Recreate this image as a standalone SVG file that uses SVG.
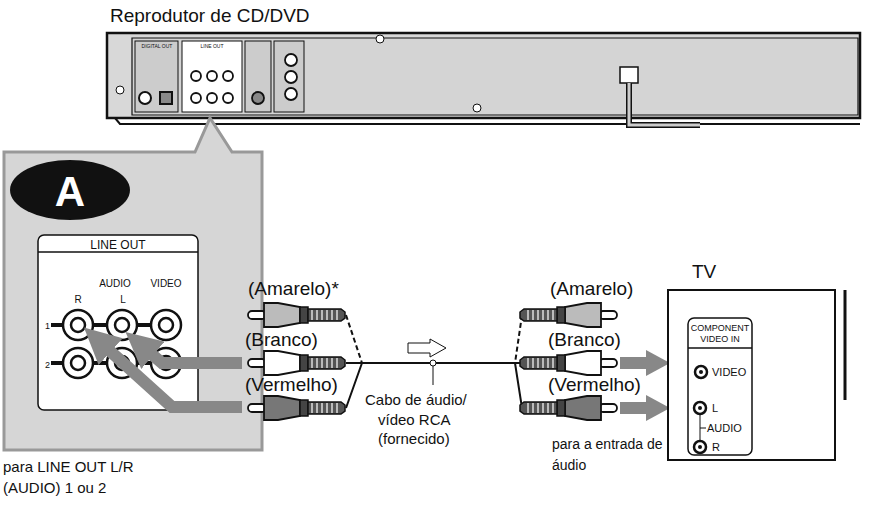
<svg xmlns="http://www.w3.org/2000/svg" width="870" height="515" viewBox="0 0 870 515">
<style>
text{font-family:"Liberation Sans",Arial,sans-serif;fill:#111}
.lbl{font-size:19px}
.sm{font-size:15px}
.tiny{font-size:5px}
.ln{stroke:#111;stroke-width:2;fill:none}
.jack{fill:#fff;stroke:#111;stroke-width:2.5}
.garrow{fill:none;stroke:#888;stroke-width:12}
.plugbody{stroke:#111;stroke-width:1.8}
</style>
<defs>
<g id="plugL">
<rect x="0" y="-4" width="18" height="8" rx="4" fill="#fff" stroke="#111" stroke-width="1.8"/>
<path d="M16,-12 H30 L52,-8 V8 L30,12 H16 Z" class="plugbody"/>
<rect x="52" y="-8" width="8" height="16" fill="#444" stroke="#111" stroke-width="1.5"/>
<path d="M60,-6 H93 L97,-3 V3 L93,6 H60 Z" fill="#555" stroke="#111" stroke-width="1.5"/>
<path d="M64,-5 V5 M69,-5 V5 M74,-5 V5 M79,-5 V5 M84,-5 V5 M89,-5 V5" stroke="#ddd" stroke-width="1.5"/>
</g>
<marker id="ah" viewBox="0 0 10 10" refX="4" refY="5" markerWidth="3" markerHeight="3" orient="auto"><path d="M0,0 L10,5 L0,10 Z" fill="#888"/></marker>
</defs>

<text x="110" y="22" class="lbl" font-size="18">Reprodutor de CD/DVD</text>

<g id="player">
<path d="M107,33 H860 V118 H107 Z" fill="#d8d8d8" stroke="#111" stroke-width="2.5"/>
<path d="M132,38 H858 V115 H132 Z" fill="#d4d4d4" stroke="#111" stroke-width="1.2"/>
<path d="M115,118 L120,124 H860" fill="none" stroke="#111" stroke-width="2"/>
<circle cx="120" cy="90" r="4" fill="#fff" stroke="#111"/>
<circle cx="380" cy="39" r="4" fill="#fff" stroke="#111"/>
<circle cx="477" cy="108" r="4" fill="#fff" stroke="#111"/>
<rect x="135" y="41" width="43" height="71" fill="#ccc" stroke="#111"/>
<rect x="182" y="41" width="60" height="71" fill="#fff" stroke="#111"/>
<rect x="245" y="41" width="26" height="71" fill="#ccc" stroke="#111"/>
<rect x="274" y="41" width="30" height="71" fill="#ccc" stroke="#111"/>
<text x="157" y="48" class="tiny" text-anchor="middle">DIGITAL OUT</text>
<text x="212" y="48" class="tiny" text-anchor="middle">LINE OUT</text>
<circle cx="145" cy="98" r="6" fill="#fff" stroke="#111" stroke-width="2"/>
<rect x="160" y="92" width="12" height="12" fill="#888" stroke="#111" stroke-width="2"/>
<g stroke="#111" stroke-width="1.8" fill="#fff">
<circle cx="196" cy="76" r="5"/><circle cx="212" cy="76" r="5"/><circle cx="228" cy="76" r="5"/>
<circle cx="196" cy="98" r="5"/><circle cx="212" cy="98" r="5"/><circle cx="228" cy="98" r="5"/>
<circle cx="258" cy="98" r="6" fill="#888"/>
<circle cx="291" cy="60" r="6"/><circle cx="291" cy="77" r="6"/><circle cx="291" cy="94" r="6"/>
</g>
<rect x="620" y="67" width="18" height="16" fill="#fff" stroke="#111" stroke-width="1.5"/>
<path d="M629,83 V125 H700" fill="none" stroke="#111" stroke-width="6"/>
<path d="M629,83 V125 H700" fill="none" stroke="#ccc" stroke-width="3"/>
</g>

<g id="callout">
<path d="M4,152 H195 L210,118 L232,152 H262 V450 H4 Z" fill="#d6d6d6" stroke="#999" stroke-width="3"/>
<ellipse cx="70" cy="190" rx="60" ry="30" fill="#111"/>
<text x="70" y="206" font-size="42" font-weight="bold" text-anchor="middle" style="fill:#fff">A</text>
<rect x="38" y="235" width="160" height="175" rx="6" fill="#fff" stroke="#111" stroke-width="1.5"/>
<line x1="38" y1="252" x2="198" y2="252" stroke="#111" stroke-width="1.5"/>
<text x="118" y="249" font-size="12" text-anchor="middle">LINE OUT</text>
<text x="115" y="287" font-size="10" text-anchor="middle">AUDIO</text>
<text x="166" y="287" font-size="10" text-anchor="middle">VIDEO</text>
<text x="78" y="303" font-size="10" text-anchor="middle">R</text>
<text x="123" y="303" font-size="10" text-anchor="middle">L</text>
<text x="45" y="329" font-size="9">1</text>
<text x="45" y="368" font-size="9">2</text>
<path d="M51,325 H180 M51,363 H180" stroke="#111" stroke-width="4"/>
<g class="jack"><circle cx="78" cy="325" r="15"/><circle cx="122" cy="325" r="15"/><circle cx="166" cy="325" r="15"/>
<circle cx="78" cy="363" r="15"/><circle cx="122" cy="363" r="15"/><circle cx="166" cy="363" r="15"/>
<circle cx="78" cy="325" r="7"/><circle cx="122" cy="325" r="7"/><circle cx="166" cy="325" r="7"/>
<circle cx="78" cy="363" r="7"/><circle cx="122" cy="363" r="7"/><circle cx="166" cy="363" r="7"/></g>
</g>

<g id="connectors">
<path d="M242,363 H162 L142,346" class="garrow" marker-end="url(#ah)"/>
<path d="M242,407 H172 L100,342" class="garrow" marker-end="url(#ah)"/>
<path d="M346,315 L362,363" class="ln" stroke-dasharray="5,3"/>
<path d="M346,363 H515 M346,408 L362,363" class="ln"/>
<path d="M522,315 L515,363" class="ln" stroke-dasharray="5,3"/>
<path d="M515,363 H522 M515,363 L522,408" class="ln"/>
<circle cx="433" cy="363" r="3" fill="#fff" stroke="#111"/>
<line x1="433" y1="366" x2="433" y2="385" stroke="#111"/>
<path d="M408,343 H430 V339 L446,348 L430,357 V353 H408 Z" fill="#fff" stroke="#111"/>
<path d="M620,363 H648" stroke="#888" stroke-width="12"/><path d="M646,350 L670,363 L646,376 Z" fill="#888"/>
<path d="M620,408 H648" stroke="#888" stroke-width="12"/><path d="M646,395 L670,408 L646,421 Z" fill="#888"/>
</g>

<g id="plugs">
<use href="#plugL" x="248" y="315" fill="#bbb"/>
<use href="#plugL" x="248" y="363" fill="#fff"/>
<use href="#plugL" x="248" y="408" fill="#777"/>
<use href="#plugL" transform="translate(617,315) scale(-1,1)" fill="#bbb"/>
<use href="#plugL" transform="translate(617,363) scale(-1,1)" fill="#fff"/>
<use href="#plugL" transform="translate(617,408) scale(-1,1)" fill="#777"/>
</g>

<text x="248" y="295" class="lbl">(Amarelo)*</text>
<text x="245" y="346" class="lbl">(Branco)</text>
<text x="245" y="391" class="lbl">(Vermelho)</text>
<text x="550" y="295" class="lbl">(Amarelo)</text>
<text x="548" y="346" class="lbl">(Branco)</text>
<text x="548" y="391" class="lbl">(Vermelho)</text>
<text x="365" y="405" class="sm">Cabo de áudio/</text>
<text x="378" y="425" class="sm">vídeo RCA</text>
<text x="378" y="444" class="sm">(fornecido)</text>
<text x="3" y="472" class="sm">para LINE OUT L/R</text>
<text x="3" y="493" class="sm">(AUDIO) 1 ou 2</text>
<text x="552" y="449" font-size="14">para a entrada de</text>
<text x="552" y="470" font-size="14">áudio</text>

<g id="tv">
<text x="692" y="278" class="lbl">TV</text>
<path d="M668,290 H835 V460 H668 Z" fill="#fff" stroke="#111" stroke-width="2"/>
<line x1="845" y1="290" x2="845" y2="400" stroke="#111" stroke-width="3"/>
<rect x="688" y="318" width="64" height="137" rx="6" fill="#fff" stroke="#111" stroke-width="1.5"/>
<line x1="688" y1="348" x2="752" y2="348" stroke="#111" stroke-width="1.5"/>
<text x="720" y="331" font-size="9" text-anchor="middle">COMPONENT</text>
<text x="720" y="342" font-size="9" text-anchor="middle">VIDEO IN</text>
<g fill="#fff" stroke="#111" stroke-width="2.5"><circle cx="701" cy="372" r="6"/><circle cx="700" cy="408" r="6"/><circle cx="700" cy="447" r="6"/></g>
<g fill="#111"><circle cx="701" cy="372" r="2"/><circle cx="700" cy="408" r="2"/><circle cx="700" cy="447" r="2"/></g>
<path d="M700,414 V441 M700,428 H706" stroke="#111"/>
<text x="712" y="376" font-size="11">VIDEO</text>
<text x="712" y="412" font-size="11">L</text>
<text x="707" y="432" font-size="11">AUDIO</text>
<text x="712" y="451" font-size="11">R</text>
</g>
</svg>
